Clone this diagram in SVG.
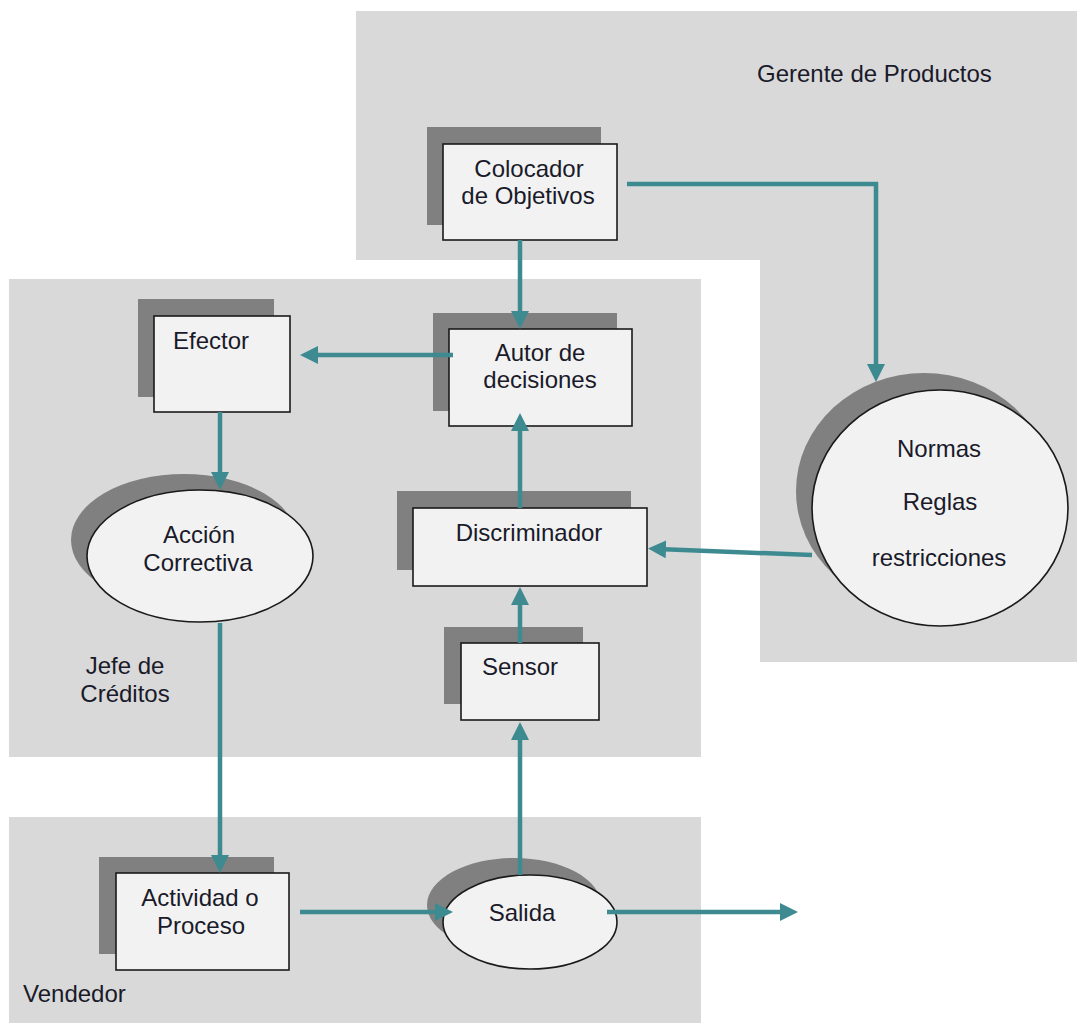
<svg xmlns="http://www.w3.org/2000/svg" width="1077" height="1023" viewBox="0 0 1077 1023">
<style>
.region{fill:#d9d9d9}
.shadow{fill:#808080}
.box{fill:#f2f2f2;stroke:#1a1a1a;stroke-width:1.6}
.t{font-family:"Liberation Sans",Arial,sans-serif;font-size:24px;fill:#1a1a2a}
.c{text-anchor:middle}
.conn{fill:none;stroke:#3d8b91;stroke-width:4.5;marker-end:url(#ah)}
.conn2{fill:none;stroke:#3d8b91;stroke-width:4.5}
</style>
<defs>
<marker id="ah" markerUnits="userSpaceOnUse" markerWidth="20" markerHeight="20" refX="8" refY="9" orient="auto">
<path d="M0,0 L18,9 L0,18 z" fill="#3d8b91"/>
</marker>
</defs>
<rect width="1077" height="1023" fill="#ffffff"/>
<g id="regions">
<path class="region" d="M356,11 H1077 V662 H760 V260 H356 Z"/>
<rect class="region" x="9" y="279" width="692" height="478"/>
<rect class="region" x="9" y="817" width="692" height="206"/>
<text class="t" x="757" y="82">Gerente de Productos</text>
<text class="t c" x="125" y="674">Jefe de</text>
<text class="t c" x="125" y="702">Créditos</text>
<text class="t" x="23" y="1002">Vendedor</text>
</g>
<g id="colocador">
<rect class="shadow" x="427" y="127" width="174" height="98"/>
<rect class="box" x="443" y="144" width="174" height="96"/>
<text class="t c" x="529" y="177">Colocador</text>
<text class="t c" x="528" y="204">de Objetivos</text>
</g>
<g id="efector">
<rect class="shadow" x="138" y="299" width="136" height="98"/>
<rect class="box" x="154" y="316" width="136" height="96"/>
<text class="t c" x="211" y="349">Efector</text>
</g>
<g id="autor">
<rect class="shadow" x="433" y="313" width="184" height="98"/>
<rect class="box" x="449" y="329" width="183" height="97"/>
<text class="t c" x="540" y="361">Autor de</text>
<text class="t c" x="540" y="388">decisiones</text>
</g>
<g id="accion">
<ellipse class="shadow" cx="184" cy="540" rx="113" ry="66"/>
<ellipse class="box" cx="200" cy="556" rx="113" ry="66"/>
<text class="t c" x="199" y="543">Acción</text>
<text class="t c" x="198" y="571">Correctiva</text>
</g>
<g id="discriminador">
<rect class="shadow" x="397" y="491" width="234" height="79"/>
<rect class="box" x="413" y="508" width="234" height="78"/>
<text class="t c" x="529" y="541">Discriminador</text>
</g>
<g id="normas">
<ellipse class="shadow" cx="924" cy="491" rx="128" ry="118"/>
<ellipse class="box" cx="940" cy="508" rx="128" ry="118"/>
<text class="t c" x="939" y="457">Normas</text>
<text class="t c" x="940" y="510">Reglas</text>
<text class="t c" x="939" y="566">restricciones</text>
</g>
<g id="sensor">
<rect class="shadow" x="444" y="627" width="139" height="77"/>
<rect class="box" x="461" y="643" width="138" height="77"/>
<text class="t c" x="520" y="675">Sensor</text>
</g>
<g id="actividad">
<rect class="shadow" x="99" y="857" width="175" height="97"/>
<rect class="box" x="116" y="873" width="173" height="97"/>
<text class="t c" x="200" y="906">Actividad o</text>
<text class="t c" x="201" y="934">Proceso</text>
</g>
<g id="salida">
<ellipse class="shadow" cx="514" cy="905" rx="87" ry="47"/>
<ellipse class="box" cx="530" cy="922" rx="87" ry="47"/>
<text class="t c" x="522" y="921">Salida</text>
</g>
<g id="connectors">
<path class="conn" d="M520,240 V319"/>
<path class="conn" d="M627,184 H876 V372"/>
<path class="conn" d="M453,355 H310"/>
<path class="conn" d="M220,412 V480"/>
<path class="conn" d="M520,508 V423"/>
<path class="conn" d="M812,555 L658,549"/>
<path class="conn" d="M520,643 V597"/>
<path class="conn" d="M520,875 V732"/>
<path class="conn" d="M220,623 V863"/>
<path class="conn" d="M300,912 H443"/>
<path class="conn" d="M607,912 H788"/>
</g>
</svg>
